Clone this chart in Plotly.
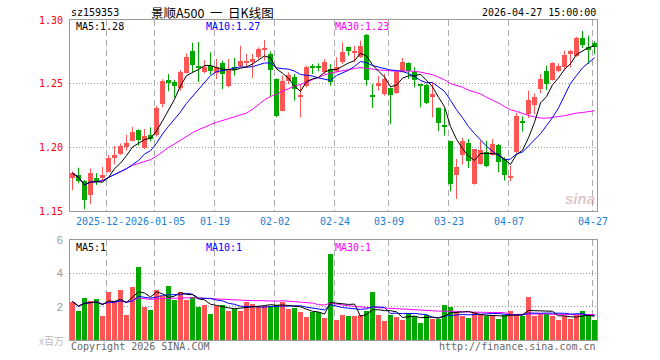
import plotly.graph_objects as go
import pandas as pd

# ---------------- data ----------------
dates = [
    "2025-12-12", "2025-12-15", "2025-12-16", "2025-12-17", "2025-12-18", "2025-12-19",
    "2025-12-22", "2025-12-23", "2025-12-24", "2025-12-25", "2025-12-26",
    "2025-12-29", "2025-12-30", "2025-12-31",
    "2026-01-05", "2026-01-06", "2026-01-07", "2026-01-08", "2026-01-09",
    "2026-01-12", "2026-01-13", "2026-01-14", "2026-01-15", "2026-01-16",
    "2026-01-19", "2026-01-20", "2026-01-21", "2026-01-22", "2026-01-23",
    "2026-01-26", "2026-01-27", "2026-01-28", "2026-01-29", "2026-01-30",
    "2026-02-02", "2026-02-03", "2026-02-04", "2026-02-05", "2026-02-06",
    "2026-02-09", "2026-02-10", "2026-02-11", "2026-02-12", "2026-02-13",
    "2026-02-24", "2026-02-25", "2026-02-26", "2026-02-27",
    "2026-03-02", "2026-03-03", "2026-03-04", "2026-03-05", "2026-03-06",
    "2026-03-09", "2026-03-10", "2026-03-11", "2026-03-12", "2026-03-13",
    "2026-03-16", "2026-03-17", "2026-03-18", "2026-03-19", "2026-03-20",
    "2026-03-23", "2026-03-24", "2026-03-25", "2026-03-26", "2026-03-27",
    "2026-03-30", "2026-03-31", "2026-04-01", "2026-04-02", "2026-04-03",
    "2026-04-07", "2026-04-08", "2026-04-09", "2026-04-10",
    "2026-04-13", "2026-04-14", "2026-04-15", "2026-04-16", "2026-04-17",
    "2026-04-20", "2026-04-21", "2026-04-22", "2026-04-23", "2026-04-24",
    "2026-04-27",
]

open_ = [
    1.1756, 1.1780, 1.1733, 1.1628, 1.1756, 1.1762, 1.1809, 1.1914, 1.1945, 1.2005,
    1.2050, 1.2134, 1.1992, 1.2097, 1.2094, 1.2338, 1.2529, 1.2513, 1.2463, 1.2586,
    1.2757, 1.2641, 1.2594, 1.2641, 1.2581, 1.2660, 1.2479, 1.2628, 1.2636, 1.2670,
    1.2668, 1.2707, 1.2767, 1.2733, 1.2537, 1.2288, 1.2518, 1.2550, 1.2401, 1.2484,
    1.2634, 1.2634, 1.2589, 1.2615, 1.2602, 1.2668, 1.2785, 1.2746, 1.2707, 1.2885,
    1.2406, 1.2484, 1.2419, 1.2463, 1.2424, 1.2602, 1.2660, 1.2589, 1.2490, 1.2490,
    1.2393, 1.2309, 1.2175, 1.2047, 1.1783, 1.1942, 1.2031, 1.1712, 1.1869, 1.1961,
    1.1942, 1.2021, 1.1908, 1.1764, 1.1961, 1.2202, 1.2262, 1.2335, 1.2458, 1.2602,
    1.2529, 1.2602, 1.2634, 1.2733, 1.2720, 1.2856, 1.2785, 1.2822,
]
high = [
    1.1811, 1.1840, 1.1743, 1.1835, 1.1798, 1.1846, 1.1940, 1.2010, 1.2031, 1.2099,
    1.2160, 1.2141, 1.2144, 1.2157, 1.2327, 1.2534, 1.2576, 1.2529, 1.2607, 1.2738,
    1.2822, 1.2827, 1.2686, 1.2746, 1.2694, 1.2681, 1.2694, 1.2702, 1.2798, 1.2733,
    1.2733, 1.2785, 1.2843, 1.2754, 1.2542, 1.2563, 1.2589, 1.2576, 1.2497, 1.2641,
    1.2654, 1.2660, 1.2694, 1.2654, 1.2707, 1.2825, 1.2791, 1.2798, 1.2838, 1.2890,
    1.2497, 1.2563, 1.2576, 1.2471, 1.2602, 1.2702, 1.2668, 1.2628, 1.2497, 1.2497,
    1.2510, 1.2314, 1.2301, 1.2052, 1.1908, 1.2073, 1.2065, 1.1987, 1.2052, 1.2052,
    1.2065, 1.2026, 1.1921, 1.1856, 1.2270, 1.2243, 1.2445, 1.2424, 1.2576, 1.2641,
    1.2668, 1.2660, 1.2759, 1.2764, 1.2869, 1.2914, 1.2877, 1.2833,
]
low = [
    1.1662, 1.1717, 1.1513, 1.1555, 1.1704, 1.1738, 1.1804, 1.1866, 1.1942, 1.1974,
    1.2047, 1.2013, 1.1987, 1.2047, 1.2084, 1.2314, 1.2440, 1.2393, 1.2445, 1.2581,
    1.2586, 1.2513, 1.2581, 1.2571, 1.2537, 1.2458, 1.2471, 1.2563, 1.2628, 1.2628,
    1.2545, 1.2694, 1.2681, 1.2393, 1.2236, 1.2283, 1.2497, 1.2366, 1.2236, 1.2471,
    1.2576, 1.2597, 1.2576, 1.2484, 1.2589, 1.2654, 1.2720, 1.2668, 1.2702, 1.2484,
    1.2309, 1.2445, 1.2406, 1.2183, 1.2419, 1.2589, 1.2537, 1.2471, 1.2314, 1.2340,
    1.2236, 1.2128, 1.2092, 1.1654, 1.1594, 1.1864, 1.1838, 1.1707, 1.1864, 1.1843,
    1.1935, 1.1804, 1.1738, 1.1733, 1.1953, 1.2123, 1.2230, 1.2262, 1.2424, 1.2450,
    1.2524, 1.2589, 1.2602, 1.2628, 1.2712, 1.2780, 1.2654, 1.2730,
]
close = [
    1.1796, 1.1733, 1.1586, 1.1796, 1.1738, 1.1780, 1.1914, 1.1937, 1.2010, 1.2031,
    1.2120, 1.2055, 1.2089, 1.2063, 1.2312, 1.2521, 1.2508, 1.2482, 1.2594, 1.2709,
    1.2647, 1.2623, 1.2634, 1.2602, 1.2628, 1.2576, 1.2615, 1.2610, 1.2678, 1.2678,
    1.2691, 1.2770, 1.2772, 1.2607, 1.2243, 1.2518, 1.2571, 1.2458, 1.2408, 1.2628,
    1.2623, 1.2623, 1.2668, 1.2510, 1.2634, 1.2746, 1.2754, 1.2759, 1.2798, 1.2531,
    1.2398, 1.2503, 1.2537, 1.2413, 1.2589, 1.2673, 1.2597, 1.2531, 1.2484, 1.2346,
    1.2419, 1.2188, 1.2157, 1.1712, 1.1843, 1.2052, 1.1895, 1.1987, 1.1979, 1.1856,
    1.2026, 1.1882, 1.1785, 1.1778, 1.2243, 1.2196, 1.2372, 1.2393, 1.2534, 1.2497,
    1.2660, 1.2641, 1.2728, 1.2757, 1.2859, 1.2804, 1.2770, 1.2791,
]
# volume in millions (x百万)
volume = [
    2.31, 1.75, 2.54, 2.35, 2.47, 1.47, 2.90, 2.35, 3.02, 1.51,
    3.18, 4.39, 2.01, 1.81, 3.02, 2.64, 3.26, 2.43, 2.90, 2.41,
    2.60, 2.01, 2.11, 1.59, 2.07, 2.13, 1.75, 1.85, 1.75, 2.31,
    2.19, 2.01, 2.05, 2.05, 2.11, 2.31, 1.87, 1.95, 1.71, 1.41,
    1.67, 1.67, 1.35, 5.15, 1.21, 1.51, 1.45, 1.45, 1.51, 1.75,
    2.88, 1.51, 1.15, 1.51, 1.39, 1.21, 1.61, 1.45, 1.03, 1.51,
    1.27, 1.27, 2.11, 1.99, 1.67, 1.45, 1.33, 1.67, 1.51, 1.45,
    1.45, 1.27, 1.51, 1.75, 1.57, 1.45, 2.58, 1.45, 1.57, 1.57,
    1.45, 1.21, 1.45, 1.27, 1.51, 1.75, 1.45, 1.21,
]

tick_dates = ["2025-12-22", "2026-01-05", "2026-01-19", "2026-02-02", "2026-02-24",
              "2026-03-09", "2026-03-23", "2026-04-07", "2026-04-27"]
# first label is shown cut off by the second one, as in the source picture
tick_labels = ["2025-12-", "2026-01-05", "01-19", "02-02", "02-24",
               "03-09", "03-23", "04-07", "04-27"]
price_ticks = [1.15, 1.20, 1.25, 1.30]
vol_ticks = [2, 4, 6]

title_code = "sz159353"
title_name = "景顺A500 一 日K线图"
title_time = "2026-04-27 15:00:00"
ma_price_labels = ["MA5:1.28", "MA10:1.27", "MA30:1.23"]
ma_vol_labels = ["MA5:1", "MA10:1", "MA30:1"]

# ---------------- layout constants ----------------
W, H = 660, 360
L_PX, R_PX, T_PX, B_PX = 70, 597, 20, 340
MAIN_BOTTOM_PX, VOL_TOP_PX = 211, 240


def pxx(px):
    return (px - L_PX) / (R_PX - L_PX)


def pxy(py):
    return (B_PX - py) / (B_PX - T_PX)


RED = "#ff5555"
GREEN = "#00a800"
MONO = "DejaVu Sans Mono"

n = len(dates)
idx = list(range(n))
up = [c >= o for o, c in zip(open_, close)]
colors = [RED if u else GREEN for u in up]

cs = pd.Series(close)
ma5 = cs.rolling(5, min_periods=1).mean()
ma10 = cs.rolling(10, min_periods=1).mean()
ma30 = cs.rolling(30, min_periods=1).mean()
vs = pd.Series(volume)
vma5 = vs.rolling(5, min_periods=1).mean()
vma10 = vs.rolling(10, min_periods=1).mean()
vma30 = vs.rolling(30, min_periods=1).mean()

fig = go.Figure()

# wicks
for flag, col in ((True, RED), (False, GREEN)):
    xs, ys = [], []
    for i in idx:
        if up[i] == flag:
            xs += [i, i, None]
            ys += [low[i], high[i], None]
    fig.add_trace(go.Scatter(x=xs, y=ys, mode="lines", line=dict(color=col, width=1),
                             xaxis="x", yaxis="y", hoverinfo="skip"))

# bodies
base = [min(o, c) for o, c in zip(open_, close)]
hgt = [max(abs(c - o), 0.0008) for o, c in zip(open_, close)]
fig.add_trace(go.Bar(x=idx, y=hgt, base=base, width=5 / 6,
                     marker=dict(color=colors, line=dict(width=0)),
                     xaxis="x", yaxis="y"))

# price MAs
for ser, col in ((ma30, "#ff00ff"), (ma10, "#0000ff"), (ma5, "#000000")):
    fig.add_trace(go.Scatter(x=idx, y=ser, mode="lines", line=dict(color=col, width=1),
                             xaxis="x", yaxis="y"))

# volume
fig.add_trace(go.Bar(x=idx, y=volume, width=5 / 6,
                     marker=dict(color=colors, line=dict(width=0)),
                     xaxis="x2", yaxis="y2"))
for ser, col in ((vma30, "#ff00ff"), (vma10, "#0000ff"), (vma5, "#000000")):
    fig.add_trace(go.Scatter(x=idx, y=ser, mode="lines", line=dict(color=col, width=1),
                             xaxis="x2", yaxis="y2"))

tickpos = [dates.index(d) - 1 / 3 for d in tick_dates]
r0 = -2.5 / 6
r1 = r0 + (R_PX - L_PX) / 6

frame = dict(showline=True, linecolor="#999999", linewidth=1, mirror=True,
             zeroline=False, ticks="")
main_dom = [pxy(MAIN_BOTTOM_PX), 1.0]
vol_dom = [0.0, pxy(VOL_TOP_PX)]

fig.update_layout(
    width=W, height=H,
    margin=dict(l=L_PX, r=W - R_PX, t=T_PX, b=H - B_PX, pad=0),
    paper_bgcolor="white", plot_bgcolor="white",
    showlegend=False, barmode="overlay", bargap=0,
    xaxis=dict(domain=[0, 1], range=[r0, r1], anchor="y", tickvals=tickpos,
               showticklabels=False, showgrid=True, gridcolor="#aaaaaa",
               griddash="6px,4px", gridwidth=1, **frame),
    yaxis=dict(domain=main_dom, range=[1.15, 1.30], anchor="x", tickvals=price_ticks,
               ticktext=["%.2f" % v for v in price_ticks],
               tickfont=dict(family=MONO, size=10, color="#ff0000"),
               showgrid=True, gridcolor="#999999", griddash="1px,2px", gridwidth=1,
               ticklabelstandoff=4, **frame),
    xaxis2=dict(domain=[0, 1], range=[r0, r1], anchor="y2", matches="x", tickvals=tickpos,
                showticklabels=False, showgrid=True, gridcolor="#aaaaaa",
                griddash="6px,4px", gridwidth=1, **frame),
    yaxis2=dict(domain=vol_dom, range=[0, 6], anchor="x2", tickvals=vol_ticks,
                ticktext=[str(v) for v in vol_ticks],
                tickfont=dict(family="Liberation Sans", size=11, color="#999999"),
                showgrid=True, gridcolor="#999999", griddash="1px,2px", gridwidth=1,
                ticklabelstandoff=4, **frame),
)

ann = []
# x date labels; the first one ends where the second one begins
for k, (pos, lab) in enumerate(zip(tickpos, tick_labels)):
    if k == 0:
        ann.append(dict(x=tickpos[1], xref="x", xshift=-30, y=pxy(221.5), yref="paper",
                        text=lab, showarrow=False, xanchor="right", yanchor="middle",
                        borderpad=0,
                        font=dict(family=MONO, size=10, color="#1a7fd4")))
    else:
        ann.append(dict(x=pos, xref="x", y=pxy(221.5), yref="paper", text=lab,
                        showarrow=False, xanchor="center", yanchor="middle",
                        borderpad=0,
                        font=dict(family=MONO, size=10, color="#1a7fd4")))
# header
ann.append(dict(x=pxx(69), xref="paper", y=pxy(13), yref="paper", text=title_code,
                showarrow=False, xanchor="left", yanchor="middle",
                font=dict(family=MONO, size=10, color="#000000")))
ann.append(dict(x=pxx(149), xref="paper", y=pxy(13), yref="paper",
                text=title_name.replace(" ", "&nbsp;&nbsp;"),
                showarrow=False, xanchor="left", yanchor="middle",
                font=dict(family="Noto Sans CJK SC", size=12.5, color="#000000")))
ann.append(dict(x=pxx(598), xref="paper", y=pxy(13), yref="paper", text=title_time,
                showarrow=False, xanchor="right", yanchor="middle",
                font=dict(family=MONO, size=10, color="#000000")))
# MA labels
for lab, xpx, col in zip(ma_price_labels, (74, 204, 333), ("#000000", "#0000ff", "#ff00ff")):
    ann.append(dict(x=pxx(xpx), xref="paper", y=pxy(26), yref="paper", text=lab,
                    showarrow=False, xanchor="left", yanchor="middle",
                    font=dict(family=MONO, size=10, color=col)))
for lab, xpx, col in zip(ma_vol_labels, (74, 204, 333), ("#000000", "#0000ff", "#ff00ff")):
    ann.append(dict(x=pxx(xpx), xref="paper", y=pxy(247), yref="paper", text=lab,
                    showarrow=False, xanchor="left", yanchor="middle",
                    font=dict(family=MONO, size=10, color=col)))
# footer
ann.append(dict(x=pxx(66), xref="paper", y=pxy(340), yref="paper", text="x百万",
                showarrow=False, xanchor="right", yanchor="middle",
                font=dict(family="Noto Sans CJK SC", size=10, color="#bbbbbb")))
ann.append(dict(x=pxx(69), xref="paper", y=pxy(346), yref="paper",
                text="Copyright 2026 SINA.COM",
                showarrow=False, xanchor="left", yanchor="middle",
                font=dict(family=MONO, size=10, color="#666666")))
ann.append(dict(x=pxx(598), xref="paper", y=pxy(346), yref="paper",
                text="http://finance.sina.com.cn",
                showarrow=False, xanchor="right", yanchor="middle",
                font=dict(family=MONO, size=10, color="#666666")))
# watermark
ann.append(dict(x=pxx(597), xref="paper", y=pxy(198), yref="paper", text="<b><i>sina</i></b>",
                showarrow=False, xanchor="right", yanchor="middle",
                font=dict(family="Liberation Sans", size=15, color="rgba(200,150,150,0.55)")))
fig.update_layout(annotations=ann)

fig.write_html("out.html")
